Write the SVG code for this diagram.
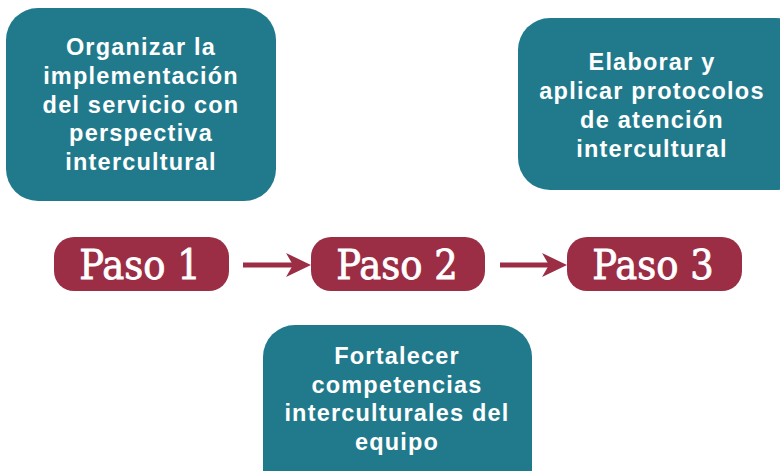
<svg xmlns="http://www.w3.org/2000/svg" width="780" height="471" viewBox="0 0 780 471">
<style>
.t{fill:#217a8c}
.p{fill:#9b2d45}
.tt{font-family:"Liberation Sans",Arial,sans-serif;font-size:23.5px;font-weight:bold;fill:#fff;text-anchor:middle;letter-spacing:1.2px}
.pt{font-family:"DejaVu Serif Condensed","DejaVu Serif",serif;font-size:41px;fill:#fff;stroke:#fff;stroke-width:0.8;text-anchor:middle}
.c{stroke:#9b2d45;stroke-width:5;fill:none}
</style>
<rect width="780" height="471" fill="#fff"/>
<g id="n1">
<rect class="t" x="6" y="8" width="270" height="193" rx="32"/>
<text class="tt"><tspan x="141" y="55">Organizar la</tspan><tspan x="141" y="84">implementación</tspan><tspan x="141" y="113">del servicio con</tspan><tspan x="141" y="141">perspectiva</tspan><tspan x="141" y="170">intercultural</tspan></text>
</g>
<g id="n2">
<rect class="t" x="518" y="18" width="290" height="172" rx="32"/>
<text class="tt"><tspan x="652" y="70">Elaborar y</tspan><tspan x="652" y="99">aplicar protocolos</tspan><tspan x="652" y="128">de atención</tspan><tspan x="652" y="157">intercultural</tspan></text>
</g>
<g id="n3">
<rect class="t" x="263" y="325" width="269" height="180" rx="32"/>
<text class="tt"><tspan x="397" y="364">Fortalecer</tspan><tspan x="397" y="393">competencias</tspan><tspan x="397" y="421">interculturales del</tspan><tspan x="397" y="450">equipo</tspan></text>
</g>
<g id="s1">
<rect class="p" x="54" y="237" width="175" height="54" rx="20"/>
<text class="pt" x="140" y="279">Paso 1</text>
</g>
<g id="s2">
<rect class="p" x="311" y="237" width="174" height="54" rx="20"/>
<text class="pt" x="397" y="279">Paso 2</text>
</g>
<g id="s3">
<rect class="p" x="567" y="237" width="175" height="54" rx="20"/>
<text class="pt" x="653" y="279">Paso 3</text>
</g>
<g id="connectors">
<line class="c" x1="243" y1="265" x2="300" y2="265"/>
<path d="M286,253 L311,265 L286,277 L293,265 Z" fill="#9b2d45"/>
<line class="c" x1="500" y1="265" x2="556" y2="265"/>
<path d="M542,253 L567,265 L542,277 L549,265 Z" fill="#9b2d45"/>
</g>
</svg>
